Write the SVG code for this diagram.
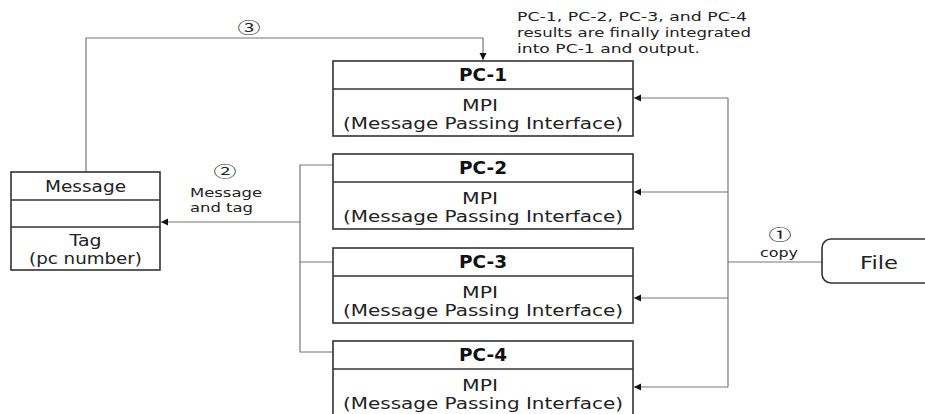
<svg xmlns="http://www.w3.org/2000/svg" width="925" height="414" viewBox="0 0 925 414">
<defs>
<marker id="arr" markerUnits="userSpaceOnUse" markerWidth="8" markerHeight="8" refX="7" refY="4" orient="auto">
<path d="M0,0.5 L7,4 L0,7.5 Z" fill="#111"/>
</marker>
<style>
.box{fill:#fff;stroke:#333;stroke-width:1.6}
.div{stroke:#333;stroke-width:1.6}
.con{fill:none;stroke:#777;stroke-width:1.2}
text{font-family:"DejaVu Sans","Noto Sans CJK KR",sans-serif;fill:#222}
.t{font-size:16px;text-anchor:middle}
.b{font-size:17px;font-weight:bold;text-anchor:middle;fill:#111}
.s{font-size:13px}
.c{font-family:"Noto Sans CJK KR",sans-serif;font-size:15px;text-anchor:middle}
</style>
</defs>
<rect width="925" height="414" fill="#fff"/>
<g id="connectors">
<polyline class="con" points="86,172 86,38 483,38 483,60" marker-end="url(#arr)"/>
<polyline class="con" points="333,165 300,165 300,352 333,352"/>
<line class="con" x1="300" y1="262" x2="333" y2="262"/>
<line class="con" x1="300" y1="222" x2="161" y2="222" marker-end="url(#arr)"/>
<line class="con" x1="822" y1="262" x2="728" y2="262"/>
<polyline class="con" points="728,98 728,387"/>
<line class="con" x1="728" y1="98" x2="634" y2="98" marker-end="url(#arr)"/>
<line class="con" x1="728" y1="192" x2="634" y2="192" marker-end="url(#arr)"/>
<line class="con" x1="728" y1="298" x2="634" y2="298" marker-end="url(#arr)"/>
<line class="con" x1="728" y1="387" x2="634" y2="387" marker-end="url(#arr)"/>
<text class="c" x="249" y="32.5" textLength="23" lengthAdjust="spacingAndGlyphs">③</text>
<text class="c" x="225" y="176.5" textLength="23" lengthAdjust="spacingAndGlyphs">②</text>
<text class="s" x="190" y="197" textLength="72" lengthAdjust="spacingAndGlyphs">Message</text>
<text class="s" x="190" y="212" textLength="63" lengthAdjust="spacingAndGlyphs">and tag</text>
<text class="c" x="780" y="239.5" textLength="23" lengthAdjust="spacingAndGlyphs">①</text>
<text class="s" x="779" y="257" text-anchor="middle" textLength="38" lengthAdjust="spacingAndGlyphs">copy</text>
</g>
<g id="note">
<text class="s" x="517" y="21" textLength="230" lengthAdjust="spacingAndGlyphs">PC-1, PC-2, PC-3, and PC-4</text>
<text class="s" x="517" y="37" textLength="234" lengthAdjust="spacingAndGlyphs">results are finally integrated</text>
<text class="s" x="517" y="53" textLength="183" lengthAdjust="spacingAndGlyphs">into PC-1 and output.</text>
</g>
<g id="pc1">
<rect class="box" x="333" y="61" width="300" height="75"/>
<line class="div" x1="333" y1="89" x2="633" y2="89"/>
<text class="b" x="483" y="81" textLength="48" lengthAdjust="spacingAndGlyphs">PC-1</text>
<text class="t" x="480" y="111" textLength="36" lengthAdjust="spacingAndGlyphs">MPI</text>
<text class="t" x="483" y="129" textLength="280" lengthAdjust="spacingAndGlyphs">(Message Passing Interface)</text>
</g>
<g id="pc2">
<rect class="box" x="333" y="154" width="300" height="75"/>
<line class="div" x1="333" y1="182" x2="633" y2="182"/>
<text class="b" x="483" y="174" textLength="48" lengthAdjust="spacingAndGlyphs">PC-2</text>
<text class="t" x="480" y="204" textLength="36" lengthAdjust="spacingAndGlyphs">MPI</text>
<text class="t" x="483" y="222" textLength="280" lengthAdjust="spacingAndGlyphs">(Message Passing Interface)</text>
</g>
<g id="pc3">
<rect class="box" x="333" y="248" width="300" height="75"/>
<line class="div" x1="333" y1="276" x2="633" y2="276"/>
<text class="b" x="483" y="268" textLength="48" lengthAdjust="spacingAndGlyphs">PC-3</text>
<text class="t" x="480" y="298" textLength="36" lengthAdjust="spacingAndGlyphs">MPI</text>
<text class="t" x="483" y="316" textLength="280" lengthAdjust="spacingAndGlyphs">(Message Passing Interface)</text>
</g>
<g id="pc4">
<rect class="box" x="333" y="341" width="300" height="75"/>
<line class="div" x1="333" y1="369" x2="633" y2="369"/>
<text class="b" x="483" y="361" textLength="48" lengthAdjust="spacingAndGlyphs">PC-4</text>
<text class="t" x="480" y="391" textLength="36" lengthAdjust="spacingAndGlyphs">MPI</text>
<text class="t" x="483" y="409" textLength="280" lengthAdjust="spacingAndGlyphs">(Message Passing Interface)</text>
</g>
<g id="message">
<rect class="box" x="11" y="172" width="149" height="98"/>
<line class="div" x1="11" y1="200" x2="160" y2="200"/>
<line class="div" x1="11" y1="227" x2="160" y2="227"/>
<text class="t" x="85.5" y="192" textLength="81" lengthAdjust="spacingAndGlyphs">Message</text>
<text class="t" x="85.5" y="246" textLength="32" lengthAdjust="spacingAndGlyphs">Tag</text>
<text class="t" x="85.5" y="264" textLength="113" lengthAdjust="spacingAndGlyphs">(pc number)</text>
</g>
<g id="file">
<rect class="box" x="822" y="239" width="120" height="44" rx="9"/>
<text class="t" x="879" y="269" style="font-size:18px" textLength="38" lengthAdjust="spacingAndGlyphs">File</text>
</g>
</svg>
